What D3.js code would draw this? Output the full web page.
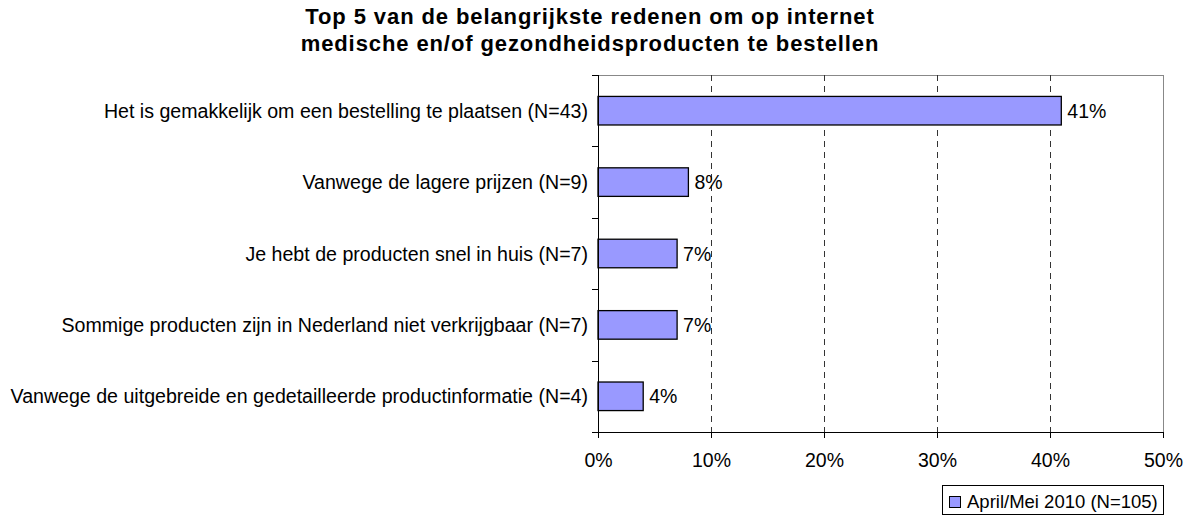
<!DOCTYPE html>
<html>
<head>
<meta charset="utf-8">
<script src="https://cdn.jsdelivr.net/npm/d3@7"></script>
<style>
  body { margin: 0; background: #fff; }
  text { font-family: "Liberation Sans", Arial, sans-serif; }
</style>
</head>
<body>
<div id="chart"></div>
<script>
const titleLines = [
    "Top 5 van de belangrijkste redenen om op internet",
    "medische en/of gezondheidsproducten te bestellen"
];
const categories = [
    "Het is gemakkelijk om een bestelling te plaatsen (N=43)",
    "Vanwege de lagere prijzen (N=9)",
    "Je hebt de producten snel in huis (N=7)",
    "Sommige producten zijn in Nederland niet verkrijgbaar (N=7)",
    "Vanwege de uitgebreide en gedetailleerde productinformatie (N=4)"
];
const values = [41, 8, 7, 7, 4];
const xTicks = [0, 10, 20, 30, 40, 50];
const seriesName = "April/Mei 2010 (N=105)";

const W = 1193, H = 515;
const margin = { top: 75, right: 30, bottom: 83, left: 598 },
      width = 1163 - margin.left,
      height = 432 - margin.top;

const svg = d3.select("#chart").append("svg")
    .attr("width", W)
    .attr("height", H);

svg.selectAll(".title")
    .data(titleLines)
    .enter()
    .append("text")
    .attr("class", "title")
    .attr("x", 590)
    .attr("y", (d, i) => 24 + i * 27)
    .attr("text-anchor", "middle")
    .style("font-size", "22px")
    .style("font-weight", "bold")
    .style("letter-spacing", "0.9px")
    .text(d => d);

const g = svg.append("g")
    .attr("transform", `translate(${margin.left},${margin.top})`);

const x = d3.scaleLinear().domain([0, 50]).range([0, width]);
const y = d3.scaleBand().domain(categories).range([0, height]).paddingInner(0.6).paddingOuter(0.3);
const yb = d3.scaleBand().domain(categories).range([0, height]);

// plot frame: top and right in grey
g.append("line").attr("x1", 0).attr("x2", width).attr("y1", 0.5).attr("y2", 0.5)
    .attr("stroke", "#888").attr("stroke-width", 1);
g.append("line").attr("x1", width + 0.5).attr("x2", width + 0.5).attr("y1", 0).attr("y2", height)
    .attr("stroke", "#888").attr("stroke-width", 1);

// dashed gridlines
g.selectAll(".grid")
    .data(xTicks.filter(d => d > 0 && d < 50))
    .enter()
    .append("line")
    .attr("class", "grid")
    .attr("x1", d => Math.round(x(d)) + 0.5)
    .attr("x2", d => Math.round(x(d)) + 0.5)
    .attr("y1", 0)
    .attr("y2", height)
    .attr("stroke", "#333")
    .attr("stroke-width", 1)
    .attr("stroke-dasharray", "6,5");

g.selectAll(".bar")
    .data(values)
    .enter()
    .append("rect")
    .attr("class", "bar")
    .attr("x", 0)
    .attr("y", (d, i) => y(categories[i]))
    .attr("width", d => x(d))
    .attr("height", y.bandwidth())
    .attr("fill", "#9999ff")
    .attr("stroke", "#000")
    .attr("stroke-width", 1.3);

g.selectAll(".val")
    .data(values)
    .enter()
    .append("text")
    .attr("class", "val")
    .attr("x", d => x(d) + 6)
    .attr("y", (d, i) => y(categories[i]) + y.bandwidth() / 2)
    .attr("dy", "0.36em")
    .style("font-size", "19.5px")
    .text(d => d + "%");

// category labels
g.selectAll(".cat")
    .data(categories)
    .enter()
    .append("text")
    .attr("class", "cat")
    .attr("x", -10)
    .attr("y", d => yb(d) + yb.bandwidth() / 2)
    .attr("dy", "0.36em")
    .attr("text-anchor", "end")
    .style("font-size", "19.6px")
    .text(d => d);

// left axis with ticks at band boundaries
const yEdges = categories.map(d => yb(d)).concat([height]);
g.append("line").attr("x1", 0.5).attr("x2", 0.5).attr("y1", 0).attr("y2", height)
    .attr("stroke", "#000");
g.selectAll(".ytick")
    .data(yEdges)
    .enter()
    .append("line")
    .attr("class", "ytick")
    .attr("x1", -6)
    .attr("x2", 0)
    .attr("y1", d => Math.round(d) + 0.5)
    .attr("y2", d => Math.round(d) + 0.5)
    .attr("stroke", "#000");

// bottom axis
const xAxis = g.append("g")
    .attr("transform", `translate(0,${height})`)
    .call(d3.axisBottom(x).tickValues(xTicks).tickFormat(d => d + "%").tickSize(6).tickPadding(15));
xAxis.select(".domain").attr("stroke", "#000");
xAxis.selectAll("text").style("font-size", "19.5px").attr("fill", "#000")
    .style("font-family", "'Liberation Sans', Arial, sans-serif");

// legend
const legend = svg.append("g").attr("transform", "translate(942,485)");
legend.append("rect")
    .attr("x", 0.5).attr("y", 0.5).attr("width", 221).attr("height", 29)
    .attr("fill", "#fff").attr("stroke", "#000");
legend.append("rect")
    .attr("x", 7.5).attr("y", 11.5).attr("width", 11).attr("height", 11)
    .attr("fill", "#9999ff").attr("stroke", "#000");
legend.append("text")
    .attr("x", 25).attr("y", 23)
    .style("font-size", "18.5px")
    .text(seriesName);
</script>
</body>
</html>
